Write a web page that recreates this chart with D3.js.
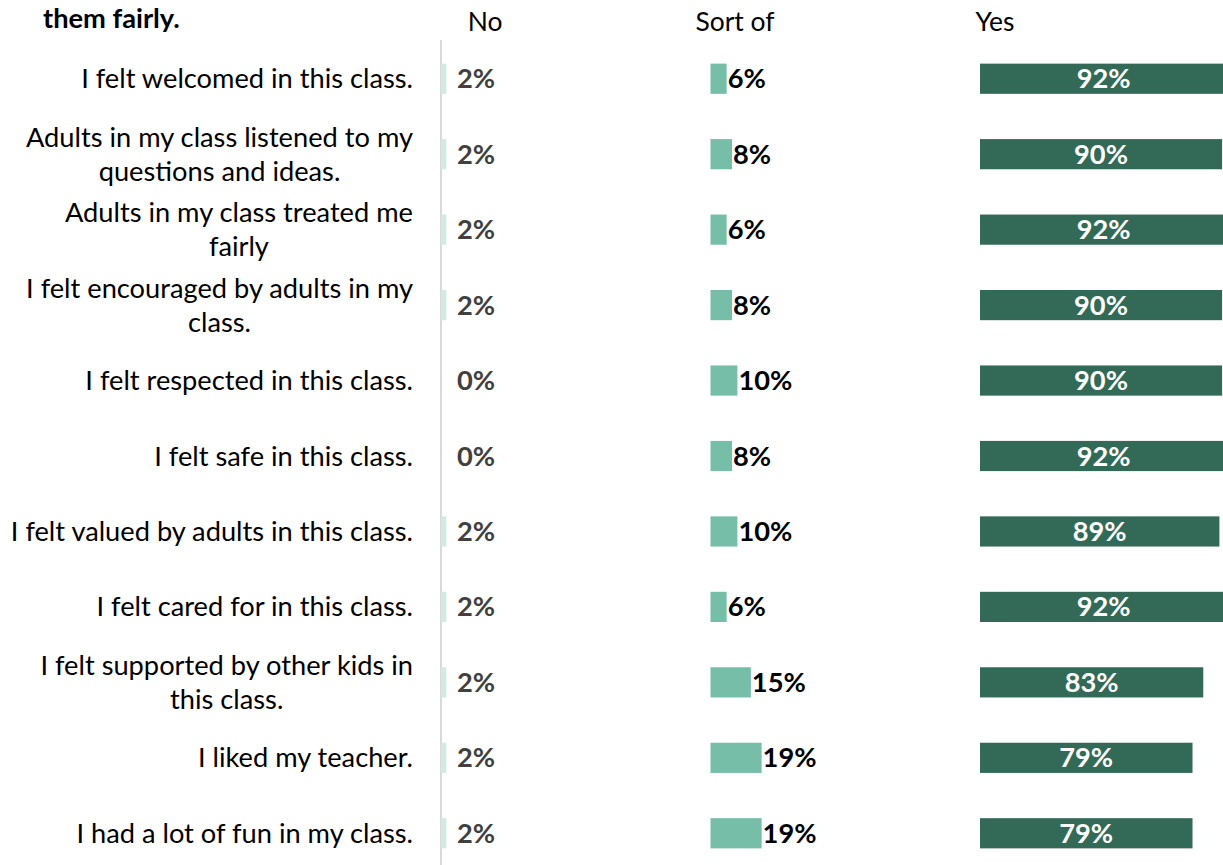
<!DOCTYPE html>
<html>
<head>
<meta charset="utf-8">
<script src="https://cdn.jsdelivr.net/npm/d3@7"></script>
<style>
  html, body { margin: 0; padding: 0; background: #ffffff; }
  svg { display: block; }
</style>
</head>
<body>
<svg id="chart" width="1223" height="865"></svg>
<script>
// Survey statements (line breaks mark how each label wraps)
const statements = [
  "I felt welcomed in this class.",
  "Adults in my class listened to my\nquestions and ideas.",
  "Adults in my class treated me\nfairly",
  "I felt encouraged by adults in my\nclass.",
  "I felt respected in this class.",
  "I felt safe in this class.",
  "I felt valued by adults in this class.",
  "I felt cared for in this class.",
  "I felt supported by other kids in\nthis class.",
  "I liked my teacher.",
  "I had a lot of fun in my class."
];

// Share of responses (%) per answer
const noValues     = [2, 2, 2, 2, 0, 0, 2, 2, 2, 2, 2];
const sortOfValues = [6, 8, 6, 8, 10, 8, 10, 6, 15, 19, 19];
const yesValues    = [92, 90, 92, 90, 90, 92, 89, 92, 83, 79, 79];

const answerNames = ["No", "Sort of", "Yes"];
const titleTail = "them fairly.";

const FONT = "Lato, 'Open Sans', sans-serif";
const svg = d3.select("#chart");

// Fit the substitute font so that text widths resemble the original typeface
const probe = svg.append("text")
  .attr("font-family", FONT).attr("font-size", 29)
  .text("I felt welcomed in this class.");
const fit = 332 / probe.node().getComputedTextLength();
probe.remove();
const fs = 29 * fit;

// Row layout
const y = d3.scaleBand()
  .domain(d3.range(statements.length))
  .range([41, 871])
  .paddingInner(0.6)
  .paddingOuter(0.3);

// One linear scale per answer panel
const panelStarts = [441, 710.5, 980];
const panelWidth = 269;
const xs = panelStarts.map(p => d3.scaleLinear().domain([0, 100]).range([p, p + panelWidth]));

const colors = ["#d2ebe2", "#76bea7", "#336a57"];
const series = [noValues, sortOfValues, yesValues];

// Title (last line)
svg.append("text")
  .attr("x", 43).attr("y", 28)
  .attr("font-family", FONT).attr("font-weight", "bold")
  .attr("font-size", fs).attr("fill", "#000")
  .text(titleTail);

// Panel headers
const headerX = [485, 735, 995];
svg.selectAll("text.header")
  .data(answerNames)
  .join("text")
  .attr("class", "header")
  .attr("x", (d, i) => headerX[i])
  .attr("y", 31)
  .attr("text-anchor", "middle")
  .attr("font-family", FONT)
  .attr("font-size", fs * 0.97)
  .attr("fill", "#000")
  .text(d => d);

// Category axis line
svg.append("line")
  .attr("x1", xs[0](0)).attr("x2", xs[0](0))
  .attr("y1", 40).attr("y2", 865)
  .attr("stroke", "#d9d9d9").attr("stroke-width", 2);

// Statement labels: block right-aligned, lines centred within the block
const labelRight = 413;
const lineGap = 34;
const labelG = svg.append("g");
statements.forEach((s, i) => {
  const lines = s.split("\n");
  const g = labelG.append("g");
  const texts = lines.map((ln, k) => g.append("text")
    .attr("font-family", FONT).attr("font-size", fs).attr("fill", "#000")
    .attr("text-anchor", "middle")
    .attr("dy", "0.35em")
    .text(ln));
  const maxW = d3.max(texts, t => t.node().getComputedTextLength());
  const cx = labelRight - maxW / 2;
  const cy = y(i) + y.bandwidth() / 2;
  texts.forEach((t, k) => {
    t.attr("x", cx).attr("y", cy + (k - (lines.length - 1) / 2) * lineGap);
  });
});

// Bars
series.forEach((vals, si) => {
  const x = xs[si];
  svg.append("g").selectAll("rect")
    .data(vals)
    .join("rect")
    .attr("x", x(0))
    .attr("y", (d, i) => y(i))
    .attr("width", d => x(d) - x(0))
    .attr("height", y.bandwidth())
    .attr("fill", colors[si]);
});

// Value labels
const valueFs = fs;
svg.append("g").selectAll("text")
  .data(noValues)
  .join("text")
  .attr("x", xs[0](0) + 16)
  .attr("y", (d, i) => y(i) + y.bandwidth() / 2)
  .attr("dy", "0.35em")
  .attr("font-family", FONT).attr("font-weight", "bold")
  .attr("font-size", valueFs).attr("fill", "#404040")
  .text(d => d + "%");

svg.append("g").selectAll("text")
  .data(sortOfValues)
  .join("text")
  .attr("x", d => xs[1](d) + 1)
  .attr("y", (d, i) => y(i) + y.bandwidth() / 2)
  .attr("dy", "0.35em")
  .attr("font-family", FONT).attr("font-weight", "bold")
  .attr("font-size", valueFs).attr("fill", "#000")
  .text(d => d + "%");

svg.append("g").selectAll("text")
  .data(yesValues)
  .join("text")
  .attr("x", d => (xs[2](0) + xs[2](d)) / 2)
  .attr("y", (d, i) => y(i) + y.bandwidth() / 2)
  .attr("dy", "0.35em")
  .attr("text-anchor", "middle")
  .attr("font-family", FONT).attr("font-weight", "bold")
  .attr("font-size", valueFs).attr("fill", "#ffffff")
  .text(d => d + "%");
</script>
</body>
</html>
